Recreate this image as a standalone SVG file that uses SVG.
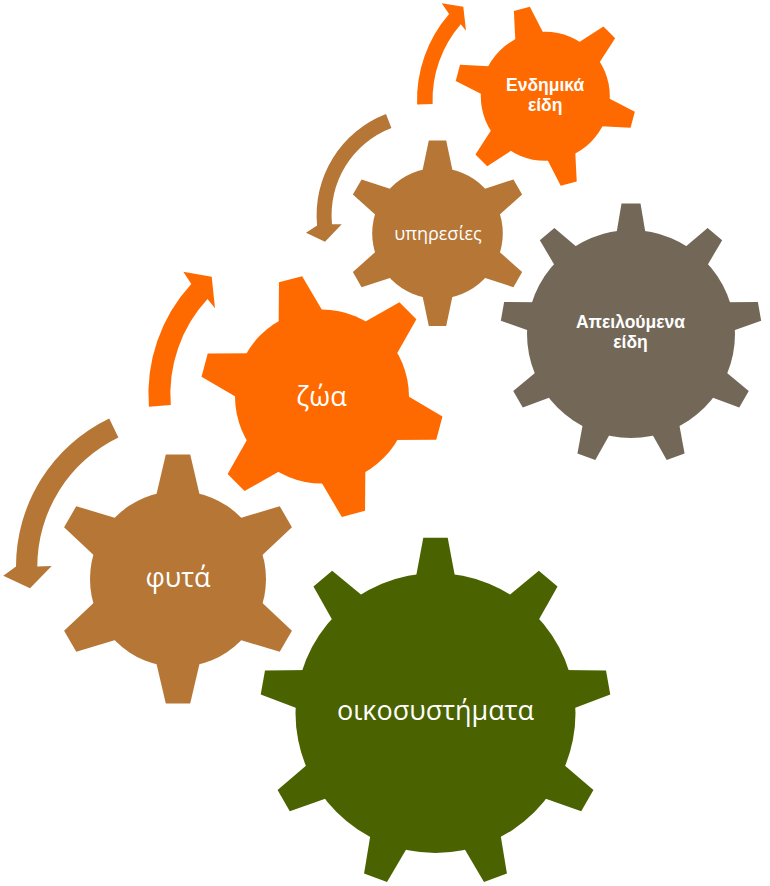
<svg xmlns="http://www.w3.org/2000/svg" xmlns:xlink="http://www.w3.org/1999/xlink" width="770" height="886" viewBox="0 0 770 886">
<style>
.brown{fill:#B57636}
.orange{fill:#FF6A00}
.green{fill:#4A6200}
.gray{fill:#736858}
.lbl{font-family:"Open Sans","Noto Sans",sans-serif;fill:#FFFFFF;text-anchor:middle}
.lblb{font-family:"Liberation Sans",Arial,sans-serif;font-weight:bold;fill:#FFFFFF;text-anchor:middle;font-size:17.5px}
</style>
<defs>
<path id="t-eco" d="M-12.2,-175.3 L12.2,-175.3 L20.5,-131 L-20.5,-131 Z"/>
<path id="t-threat" d="M-9.5,-130.5 L9.5,-130.5 L15.5,-95 L-15.5,-95 Z"/>
<path id="t-plants" d="M-12.2,-124.5 L12.2,-124.5 L23.1,-78 L-23.1,-78 Z"/>
<path id="t-animals" d="M-12,-121.5 L12,-121.5 L24,-78 L-24,-78 Z"/>
<path id="t-services" d="M-8.7,-92.7 L8.7,-92.7 L16,-58 L-16,-58 Z"/>
<path id="t-endemic" d="M-8.3,-90.5 L8.3,-90.5 L15.5,-57 L-15.5,-57 Z"/>
</defs>

<g id="connectors">
<path class="brown" d="M109.2,418.4 A164.5,164.5 0 0 0 16,566.6 L3.3,575.7 L30,588.3 L51.7,566 L37.3,566.6 A143.2,143.2 0 0 1 118.4,437.6 Z"/>
<path class="orange" d="M148.9,406.7 A162,162 0 0 1 191.3,284.1 L183.3,271.7 L211.7,276.7 L215,308.3 L207.5,299.1 A140,140 0 0 0 170.8,405 Z"/>
<path class="brown" d="M386,114 A108.5,108.5 0 0 0 317.1,225.6 L306,232.7 L325,241.7 L341.7,224.3 L332,224.2 A93.5,93.5 0 0 1 391.4,128 Z"/>
<path class="orange" d="M417.1,104.6 A131,131 0 0 1 449.1,14.1 L441.7,3.3 L463.3,6.7 L466,30.7 L460.8,24.2 A115.5,115.5 0 0 0 432.6,104 Z"/>
</g>

<g id="gear-ecosystems" class="green">
<g transform="translate(435.5,713)">
<circle r="140"/>
<use xlink:href="#t-eco" href="#t-eco"/>
<use xlink:href="#t-eco" href="#t-eco" transform="rotate(40)"/>
<use xlink:href="#t-eco" href="#t-eco" transform="rotate(80)"/>
<use xlink:href="#t-eco" href="#t-eco" transform="rotate(120)"/>
<use xlink:href="#t-eco" href="#t-eco" transform="rotate(160)"/>
<use xlink:href="#t-eco" href="#t-eco" transform="rotate(200)"/>
<use xlink:href="#t-eco" href="#t-eco" transform="rotate(240)"/>
<use xlink:href="#t-eco" href="#t-eco" transform="rotate(280)"/>
<use xlink:href="#t-eco" href="#t-eco" transform="rotate(320)"/>
</g>
<text class="lbl" x="435.5" y="720" font-size="27">οικοσυστήματα</text>
</g>

<g id="gear-plants" class="brown">
<g transform="translate(178,579)">
<circle r="88"/>
<use xlink:href="#t-plants" href="#t-plants"/>
<use xlink:href="#t-plants" href="#t-plants" transform="rotate(60)"/>
<use xlink:href="#t-plants" href="#t-plants" transform="rotate(120)"/>
<use xlink:href="#t-plants" href="#t-plants" transform="rotate(180)"/>
<use xlink:href="#t-plants" href="#t-plants" transform="rotate(240)"/>
<use xlink:href="#t-plants" href="#t-plants" transform="rotate(300)"/>
</g>
<text class="lbl" x="178" y="587" font-size="27">φυτά</text>
</g>

<g id="gear-animals" class="orange">
<g transform="translate(322,396.6)">
<circle r="87"/>
<use xlink:href="#t-animals" href="#t-animals" transform="rotate(-15)"/>
<use xlink:href="#t-animals" href="#t-animals" transform="rotate(45)"/>
<use xlink:href="#t-animals" href="#t-animals" transform="rotate(105)"/>
<use xlink:href="#t-animals" href="#t-animals" transform="rotate(165)"/>
<use xlink:href="#t-animals" href="#t-animals" transform="rotate(225)"/>
<use xlink:href="#t-animals" href="#t-animals" transform="rotate(285)"/>
</g>
<text class="lbl" x="321.5" y="405.5" font-size="27">ζώα</text>
</g>

<g id="gear-threatened" class="gray">
<g transform="translate(631,334)">
<circle r="104"/>
<use xlink:href="#t-threat" href="#t-threat"/>
<use xlink:href="#t-threat" href="#t-threat" transform="rotate(40)"/>
<use xlink:href="#t-threat" href="#t-threat" transform="rotate(80)"/>
<use xlink:href="#t-threat" href="#t-threat" transform="rotate(120)"/>
<use xlink:href="#t-threat" href="#t-threat" transform="rotate(160)"/>
<use xlink:href="#t-threat" href="#t-threat" transform="rotate(200)"/>
<use xlink:href="#t-threat" href="#t-threat" transform="rotate(240)"/>
<use xlink:href="#t-threat" href="#t-threat" transform="rotate(280)"/>
<use xlink:href="#t-threat" href="#t-threat" transform="rotate(320)"/>
</g>
<text class="lblb" x="630.5" y="327.9">Απειλούμενα<tspan x="630.5" dy="19.7">είδη</tspan></text>
</g>

<g id="gear-services" class="brown">
<g transform="translate(437.5,233.3)">
<circle r="65.3"/>
<use xlink:href="#t-services" href="#t-services"/>
<use xlink:href="#t-services" href="#t-services" transform="rotate(60)"/>
<use xlink:href="#t-services" href="#t-services" transform="rotate(120)"/>
<use xlink:href="#t-services" href="#t-services" transform="rotate(180)"/>
<use xlink:href="#t-services" href="#t-services" transform="rotate(240)"/>
<use xlink:href="#t-services" href="#t-services" transform="rotate(300)"/>
</g>
<text class="lbl" x="438" y="239.5" font-size="18">υπηρεσίες</text>
</g>

<g id="gear-endemic" class="orange">
<g transform="translate(545.3,96.3)">
<circle r="64.5"/>
<use xlink:href="#t-endemic" href="#t-endemic" transform="rotate(-15)"/>
<use xlink:href="#t-endemic" href="#t-endemic" transform="rotate(45)"/>
<use xlink:href="#t-endemic" href="#t-endemic" transform="rotate(105)"/>
<use xlink:href="#t-endemic" href="#t-endemic" transform="rotate(165)"/>
<use xlink:href="#t-endemic" href="#t-endemic" transform="rotate(225)"/>
<use xlink:href="#t-endemic" href="#t-endemic" transform="rotate(285)"/>
</g>
<text class="lblb" x="545.2" y="91">Ενδημικά<tspan x="545.2" dy="19.7">είδη</tspan></text>
</g>
</svg>
